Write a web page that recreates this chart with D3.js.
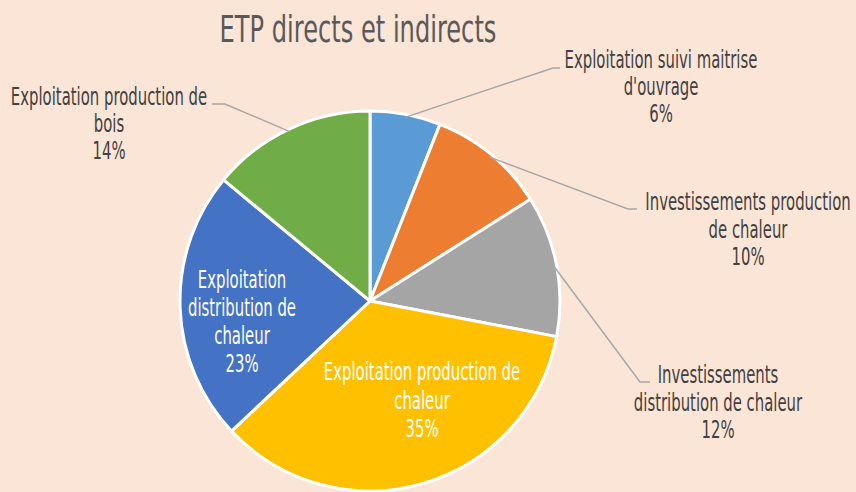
<!DOCTYPE html>
<html>
<head>
<meta charset="utf-8">
<script src="https://cdn.jsdelivr.net/npm/d3@7"></script>
<style>
  body { margin: 0; background: #fbe5d6; }
  svg { display: block; }
  text { font-family: "DejaVu Sans", sans-serif; }
</style>
</head>
<body>
<svg width="856" height="492"></svg>
<script>
const categories = [
  ['Exploitation suivi maitrise', "d'ouvrage"],
  ['Investissements production', 'de chaleur'],
  ['Investissements', 'distribution de chaleur'],
  ['Exploitation production de', 'chaleur'],
  ['Exploitation', 'distribution de', 'chaleur'],
  ['Exploitation production de', 'bois']
]
const values = [6, 10, 12, 35, 23, 14]
const colors = ['#5b9bd5', '#ed7d31', '#a5a5a5', '#ffc000', '#4472c4', '#70ad47']
const title = 'ETP directs et indirects'

const svg = d3.select('svg')
const width = +svg.attr('width')
const height = +svg.attr('height')
const cx = 370, cy = 301, radius = 190

svg.append('rect').attr('width', width).attr('height', height).attr('fill', '#fbe5d6')

// draws a horizontally squeezed line of text centred on x (narrow look of the original face)
function narrowText(x, y, s, size, fill, squeeze = 0.62) {
  svg.append('text')
    .attr('transform', `translate(${x},${y}) scale(${squeeze},1)`)
    .attr('text-anchor', 'middle')
    .attr('font-size', size)
    .attr('fill', fill)
    .text(s)
}

narrowText(358, 42, title, 38, '#595959', 0.635)

const data = values.map((v, i) => ({value: v, lines: categories[i], color: colors[i]}))
const pie = d3.pie().sort(null).value(d => d.value)
const arcs = pie(data)
const arc = d3.arc().innerRadius(0).outerRadius(radius)
const total = d3.sum(values)
const fmt = d => Math.round(d.value / total * 100) + '%'

const g = svg.append('g').attr('transform', `translate(${cx},${cy})`)
g.selectAll('path').data(arcs).enter().append('path')
  .attr('d', arc)
  .attr('fill', d => d.data.color)
  .attr('stroke', '#fff')
  .attr('stroke-width', 3)
  .attr('stroke-linejoin', 'round')

// label layout: first baseline of each block, outside ones get a leader line
const layout = [
  {out: true, x: 661, y: 68, lh: 27.2, elbow: [553, 68], end: 560},
  {out: true, x: 748, y: 210, lh: 27.5, elbow: [628, 209], end: 637},
  {out: true, x: 718, y: 383, lh: 27.5, elbow: [640, 382], end: 650},
  {out: false, x: 422, y: 380, lh: 28.5},
  {out: false, x: 242, y: 288, lh: 28},
  {out: true, x: 109, y: 105, lh: 27.2, elbow: [225, 104], end: 212}
]

const edgeAt = (d, r) => {
  const a = (d.startAngle + d.endAngle) / 2
  return [cx + Math.sin(a) * r, cy - Math.cos(a) * r]
}

arcs.forEach((d, i) => {
  const l = layout[i]
  if (l.out) {
    svg.append('path')
      .attr('d', d3.line()([edgeAt(d, radius - 3), l.elbow, [l.end, l.elbow[1]]]))
      .attr('fill', 'none')
      .attr('stroke', '#a6a6a6')
      .attr('stroke-width', 1.4)
  }
  const lines = d.data.lines.concat([fmt(d.data)])
  lines.forEach((s, j) => {
    narrowText(l.x, l.y + j * l.lh, s, 24, l.out ? '#404040' : '#fff')
  })
})
</script>
</body>
</html>
